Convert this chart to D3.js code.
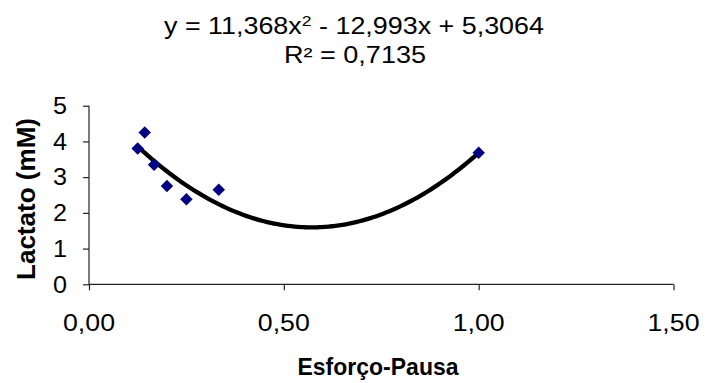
<!DOCTYPE html>
<html>
<head>
<meta charset="utf-8">
<script src="https://cdn.jsdelivr.net/npm/d3@7"></script>
<style>
  html, body { margin: 0; padding: 0; background: #fff; }
  svg { display: block; font-family: "Liberation Sans", Arial, sans-serif; }
</style>
</head>
<body>
<svg id="chart" width="705" height="383"></svg>
<script>
// Razão esforço:pausa e lactato sanguíneo (mM)
const esforcoPausa = [0.125, 0.143, 0.167, 0.2, 0.25, 0.333, 1.0];
const lactato      = [3.80, 4.25, 3.35, 2.75, 2.38, 2.65, 3.68];

// Linha de tendência polinomial de 2ª ordem: y = a·x² + b·x + c
const trendCoef = [11.368, -12.993, 5.3064];
const trendR2 = 0.7135;

const xTicks = [0, 0.5, 1.0, 1.5];
const yTicks = [0, 1, 2, 3, 4, 5];

const fmtComma = (v, d) => v.toFixed(d).replace(".", ",");

const svg = d3.select("#chart");
const margin = { left: 89, right: 705 - 673.5, top: 105.7, bottom: 383 - 284.3 };

const x = d3.scaleLinear().domain([0, 1.5]).range([margin.left, 705 - margin.right]);
const y = d3.scaleLinear().domain([0, 5]).range([383 - margin.bottom, margin.top]);

// Eixos
const xAxis = d3.axisBottom(x).tickValues(xTicks).tickSize(6).tickFormat("");
const yAxis = d3.axisLeft(y).tickValues(yTicks).tickSize(6).tickFormat("");

const gx = svg.append("g").attr("transform", `translate(0,${y(0)})`).call(xAxis);
const gy = svg.append("g").attr("transform", `translate(${x(0)},0)`).call(yAxis);
[gx, gy].forEach(g => {
  g.select(".domain").attr("stroke", "#222").attr("stroke-width", 1.2);
  g.selectAll(".tick line").attr("stroke", "#222").attr("stroke-width", 1.2);
});
// extremidades do eixo sem os "caps" externos
gx.select(".domain").attr("d", `M${x(0)},0H${x(1.5)}`);
gy.select(".domain").attr("d", `M0,${y(0)}V${y(5)}`);

// Rótulos dos ticks
svg.append("g").selectAll("text").data(xTicks).join("text")
  .attr("x", d => x(d)).attr("y", 331)
  .attr("text-anchor", "middle")
  .attr("font-size", 23)
  .attr("textLength", 52).attr("lengthAdjust", "spacingAndGlyphs")
  .text(d => fmtComma(d, 2));

svg.append("g").selectAll("text").data(yTicks).join("text")
  .attr("x", 67).attr("y", d => y(d)).attr("dy", "0.36em")
  .attr("text-anchor", "end")
  .attr("font-size", 23)
  .attr("textLength", 14).attr("lengthAdjust", "spacingAndGlyphs")
  .text(d => d);

// Títulos dos eixos
svg.append("text")
  .attr("x", 378).attr("y", 375)
  .attr("text-anchor", "middle")
  .attr("font-size", 24).attr("font-weight", "bold")
  .attr("textLength", 161).attr("lengthAdjust", "spacingAndGlyphs")
  .text("Esforço-Pausa");

svg.append("text")
  .attr("transform", `translate(35,199) rotate(-90)`)
  .attr("text-anchor", "middle")
  .attr("font-size", 25).attr("font-weight", "bold")
  .attr("textLength", 162).attr("lengthAdjust", "spacingAndGlyphs")
  .text("Lactato (mM)");

// Equação e R²
const eq = svg.append("text")
  .attr("x", 354).attr("y", 34)
  .attr("text-anchor", "middle")
  .attr("font-size", 23)
  .attr("textLength", 380).attr("lengthAdjust", "spacingAndGlyphs");
eq.append("tspan").text(`y = ${fmtComma(trendCoef[0], 3)}x`);
eq.append("tspan").attr("font-size", 15).attr("dy", -8).text("2");
eq.append("tspan").attr("dy", 8)
  .text(` - ${fmtComma(Math.abs(trendCoef[1]), 3)}x + ${fmtComma(trendCoef[2], 4)}`);

svg.append("text")
  .attr("x", 355).attr("y", 63)
  .attr("text-anchor", "middle")
  .attr("font-size", 23)
  .attr("textLength", 142).attr("lengthAdjust", "spacingAndGlyphs")
  .text(`R² = ${fmtComma(trendR2, 4)}`);

// Curva de tendência sobre o intervalo dos dados
const [xMin, xMax] = d3.extent(esforcoPausa);
const trendX = d3.range(0, 101).map(i => xMin + (xMax - xMin) * i / 100);
const poly = v => trendCoef[0] * v * v + trendCoef[1] * v + trendCoef[2];

svg.append("path")
  .datum(trendX)
  .attr("fill", "none")
  .attr("stroke", "#000")
  .attr("stroke-width", 4.3)
  .attr("stroke-linecap", "round")
  .attr("d", d3.line().x(d => x(d)).y(d => y(poly(d))).curve(d3.curveBasis));

// Pontos (losangos azul-marinho)
const diamond = d3.symbol().type(d3.symbolSquare).size(78);
svg.append("g").selectAll("path")
  .data(esforcoPausa.map((v, i) => [v, lactato[i]]))
  .join("path")
  .attr("transform", d => `translate(${x(d[0])},${y(d[1])}) rotate(45)`)
  .attr("d", diamond)
  .attr("fill", "#000080");
</script>
</body>
</html>
